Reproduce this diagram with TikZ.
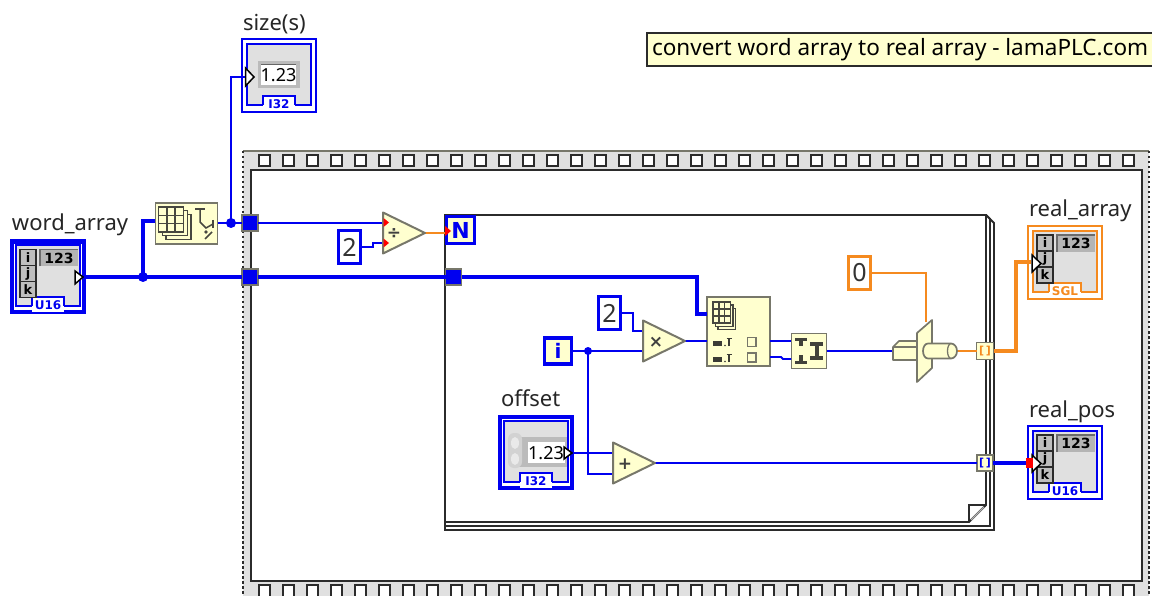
\documentclass[tikz,border=0pt]{standalone}
\usepackage{fontspec}
\setmainfont{Noto Sans}
\setsansfont{Noto Sans}
\newfontfamily\lvb{DejaVu Sans}
\usetikzlibrary{calc}
\definecolor{lvblue}{HTML}{0000F0}
\definecolor{lvorange}{HTML}{F58A1F}
\definecolor{lvyellow}{HTML}{FFFFCF}
\definecolor{lvgrey}{HTML}{E0E0E0}
\definecolor{lvedge}{HTML}{77776A}
\definecolor{lvdark}{HTML}{2B2B2B}
\definecolor{lvmid}{HTML}{B4B4B4}
\tikzset{
  wthin/.style={draw=lvblue,line width=1.8pt},
  wthick/.style={draw=lvblue,line width=3.4pt},
  othin/.style={draw=lvorange,line width=1.8pt},
  othick/.style={draw=lvorange,line width=3.6pt},
  lab/.style={anchor=base west,inner sep=0,outer sep=0,text=black!85,font=\fontsize{22}{24}\selectfont},
  fnbox/.style={rectangle,draw=lvedge,fill=lvyellow,line width=1.8pt,inner sep=0,outer sep=0},
  tunnel/.style={rectangle,draw=lvedge,fill=lvblue,line width=1.4pt,minimum size=16pt,inner sep=0,outer sep=0},
  itunnel/.style={rectangle,draw=lvedge,fill=lvyellow,line width=1.8pt,minimum size=16pt,inner sep=0,outer sep=0,font=\lvb\bfseries\fontsize{11}{11}\selectfont},
  const/.style={rectangle,draw=#1,fill=white,line width=3.6pt,inner sep=0,outer sep=0,text=black!80,font=\fontsize{25}{25}\selectfont},
  dot/.style={circle,fill=lvblue,inner sep=0,outer sep=0,minimum size=#1},
  tri/.style={rectangle,inner sep=0,outer sep=0,minimum width=42pt,minimum height=41pt},
  tripoly/.style={draw=lvedge,fill=lvyellow,line width=2pt,line join=round},
  sym/.style={inner sep=0,outer sep=0,text=black!75,font=\lvb\bfseries\fontsize{17}{17}\selectfont},
  icon/.style={draw=lvedge!60!black,line width=1.5pt},
  iconbar/.style={draw=lvedge!60!black,line width=2.2pt},
  joinbar/.style={draw=lvedge!55!black,line width=3.6pt},
  ijk/.style={draw=lvdark,fill=lvgrey!85!black,line width=1.6pt},
  ijktxt/.style={inner sep=0,outer sep=0,text=black,font=\lvb\bfseries\fontsize{13}{13}\selectfont},
  termarrow/.style={draw=black,fill=white,line width=1.5pt},
  layer/.style={draw=lvdark,line width=1.8pt,fill=white},
  loopbox/.style={rectangle,draw=lvblue,fill=lvyellow,line width=3.6pt,inner sep=0,outer sep=0,text=lvblue,font=\lvb\bfseries\fontsize{22}{22}\selectfont},
}
% terminal shell: name, left, top, colour, tag, outer line width, outer inset
\newcommand{\termframe}[7]{%
  \node[rectangle,inner sep=0,outer sep=0,minimum width=76pt,minimum height=75pt] (#1) at (#2+38,#3+37.5) {};
  \begin{scope}[shift={(#2,#3)}]
    \draw[draw=#4,fill=white,line width=#6] (#7,#7) rectangle (76-#7,75-#7);
    \draw[draw=#4,fill=lvgrey,line width=2pt] (6,6) rectangle (70,67);
    \fill[white] (22,58) rectangle (54,73);
    \draw[draw=#4,line width=2pt] (22,67) -- (22,58) -- (54,58) -- (54,67);
    \node[inner sep=0,outer sep=0,text=#4,font=\lvb\bfseries\fontsize{12}{12}\selectfont] at (38,66) {#5};
  \end{scope}}
% array content of a terminal
\newcommand{\arrayface}[2]{%
  \begin{scope}[shift={(#1,#2)}]
    \draw[ijk] (10,10) rectangle (26,26);
    \draw[ijk] (10,26) rectangle (26,42);
    \draw[ijk] (10,42) rectangle (26,58);
    \node[ijktxt] at (18,18) {i};
    \node[ijktxt] at (18,34) {j};
    \node[ijktxt] at (18,50) {k};
    \fill[lvmid] (30,10) rectangle (68,27);
    \draw[draw=lvdark!70,line width=1.2pt] (30,27) -- (30,10) -- (68,10);
    \node[ijktxt,font=\lvb\bfseries\fontsize{14}{14}\selectfont] at (49,18.5) {123};
  \end{scope}}
% 3d array icon: left, top, x scale, y scale
\newcommand{\gridicon}[4]{%
  \begin{scope}[shift={(#1,#2)},x=#3pt,y=-#4pt]
    \draw[icon,fill=lvyellow] (6,6) rectangle (26,26);
    \draw[icon,fill=lvyellow] (3,3) rectangle (23,23);
    \draw[icon,fill=lvyellow] (0,0) rectangle (20,20);
    \draw[icon] (6.7,0) -- (6.7,20) (13.3,0) -- (13.3,20) (0,6.7) -- (20,6.7) (0,13.3) -- (20,13.3);
  \end{scope}}
\begin{document}
\begin{tikzpicture}[x=1pt,y=-1pt]
\useasboundingbox (0,0) rectangle (1152,596);
\fill[white] (0,0) rectangle (1152,596);

% ---- flat sequence frame
\fill[lvgrey] (243,151) rectangle (1149,596);
\draw[draw=lvedge,line width=1.2pt] (243,151) -- (1149,151);
\draw[draw=lvdark,line width=2.4pt,dash pattern=on 2.5pt off 2.5pt] (243,151) -- (243,596);
\draw[draw=lvdark,line width=2.4pt,dash pattern=on 2.5pt off 2.5pt] (1149,151) -- (1149,596);
\draw[draw=lvdark,fill=white,line width=2.6pt] (251,170) rectangle (1142,581);
\foreach \i in {0,...,36}{
  \draw[draw=lvdark,fill=white,line width=2pt] (259+24*\i,155) rectangle (270+24*\i,166);
  \draw[draw=lvdark,fill=white,line width=2pt] (259+24*\i,585) rectangle (270+24*\i,597);
}

% ---- for loop
\draw[layer] (445,215) -- (986,215) -- (994,223) -- (994,530) -- (445,530) -- cycle;
\draw[layer] (445,215) -- (986,215) -- (990,219) -- (990,526) -- (445,526) -- cycle;
\draw[layer] (445,215) -- (986,215) -- (986,505) -- (969,522) -- (445,522) -- cycle;
\draw[draw=lvdark,line width=1.4pt] (986,505) -- (969,505) -- (969,522);
\draw[draw=lvmid,line width=1.2pt] (984,507) -- (971,520);

% ---- named blocks
\node[tunnel] (t1) at (250,223) {};
\node[tunnel] (t2) at (250,277) {};
\node[tunnel] (t3) at (453.5,277) {};
\node[itunnel,minimum size=17pt,text=lvorange] (t4) at (985,351) {[\,]};
\node[itunnel,minimum size=16pt,text=lvblue] (t5) at (985,463) {[\,]};
\node[loopbox,minimum width=28pt,minimum height=27pt] (nn) at (460.5,230) {N};
\node[loopbox,minimum width=27pt,minimum height=26pt,font=\lvb\bfseries\fontsize{20}{20}\selectfont] (ii) at (558,351) {i};

\node[const=lvblue,minimum width=22pt,minimum height=33pt] (c2a) at (349.5,247) {2};
\node[const=lvblue,minimum width=22pt,minimum height=33pt] (c2b) at (609.5,313) {2};
\node[const=lvorange,minimum width=22pt,minimum height=33pt] (c0) at (859.5,273) {0};

\node[tri] (div) at (404,233) {};
\node[tri] (mul) at (664,341) {};
\node[tri] (add) at (634,463) {};

\node[fnbox,minimum width=62pt,minimum height=41pt] (asize) at (186.5,223.5) {};
\node[fnbox,minimum width=63pt,minimum height=69pt] (asub) at (738.5,331.5) {};
\node[fnbox,minimum width=35pt,minimum height=35pt] (join) at (809,351) {};

\node[rectangle,inner sep=0,outer sep=0,minimum width=64pt,minimum height=42pt] (sel) at (925,351) {};

\node[dot=10pt] (d1) at (143,277) {};
\node[dot=10pt] (d2) at (231,223) {};
\node[dot=8pt] (d3) at (588,351) {};

% ---- ports
\coordinate (asize-in) at (155,221);
\coordinate (asub-in) at (707,314);
\coordinate (asub-idx) at (707,341);
\coordinate (asub-o1) at (770,341);
\coordinate (asub-o2) at (770,357);
\coordinate (join-i1) at (791,341);
\coordinate (join-i2) at (791,359);
\coordinate (sel-in) at (893,351);
\coordinate (sel-top) at (926,322);
\coordinate (sel-out) at (957,351);
\coordinate (size-in) at (245,77);
\coordinate (ra-in) at (1031,262);
\coordinate (rp-in) at (1030,463);
\coordinate (div-a) at (383,223);
\coordinate (div-b) at (383,243);
\coordinate (mul-a) at (643,331);
\coordinate (mul-b) at (643,351);
\coordinate (add-a) at (613,453);
\coordinate (add-b) at (613,474);
\coordinate (off-out) at (574,453);

% ---- terminals
\termframe{wa}{10}{239.5}{lvblue}{U16}{4.4pt}{2.2}
\arrayface{10}{239.5}
\termframe{sz}{241}{38.5}{lvblue}{I32}{2pt}{1}
\termframe{off}{498}{415}{lvblue}{I32}{4.4pt}{2.2}
\termframe{ra}{1027}{225}{lvorange}{SGL}{2pt}{1}
\arrayface{1027}{225}
\termframe{rp}{1027}{425}{lvblue}{U16}{2pt}{1}
\arrayface{1027}{425}

% numeric faces
\fill[lvmid!90] (258,61) rectangle (300,88);
\fill[white] (261,64) rectangle (296,85);
\draw[draw=black!60,line width=.8pt] (261,64) -- (296,64);
\node[inner sep=0,outer sep=0,text=black,font=\fontsize{18}{18}\selectfont] at (278.5,75) {1.23};
\fill[lvmid!90] (512,437) rectangle (567,467);
\fill[lvmid!60,rounded corners=6pt] (508,433) rectangle (522,468);
\fill[lvgrey!70] (515,443) ellipse (4pt and 6pt);
\fill[lvgrey!70] (515,459) ellipse (4pt and 6pt);
\fill[white] (528,442) rectangle (565,463);
\node[inner sep=0,outer sep=0,text=black,font=\fontsize{18}{18}\selectfont] at (546,453) {1.23};

% terminal arrows
\draw[termarrow] (75,271) -- (83,277) -- (75,284) -- cycle;
\draw[termarrow] (245.5,68) -- (254,77) -- (245.5,86) -- cycle;
\draw[termarrow] (564,447) -- (572,453) -- (564,459) -- cycle;
\draw[termarrow] (1032,255) -- (1041,263.5) -- (1032,272) -- cycle;
\draw[termarrow] (1032,455) -- (1041,463.5) -- (1032,472) -- cycle;

% ---- wires
\draw[wthick] (wa.east) -- (t2.west);
\draw[wthick] (t2.east) -- (t3.west);
\draw[wthick] (d1.center) |- (asize-in);
\draw[wthick,line join=miter] (t3.east) -- (697,277) |- (asub-in);
\draw[wthin] (asize.east |- d2) -- (d2.center) -- (t1.west);
\draw[wthin] (d2.center) |- (size-in);
\draw[wthin] (t1.east) -- (div-a);
\draw[wthin] (c2a.east) -- (373,247) -- (373,243) -- (div-b);
\draw[othin] (div.east) -- (nn.west |- div.east);
\draw[wthin] (c2b.east) -- (633,313) |- (mul-a);
\draw[wthin] (ii.east) -- (d3.center) -- (mul-b);
\draw[wthin] (d3.center) |- (add-b);
\draw[wthin] (off-out) -- (add-a);
\draw[wthin] (mul.east) -- (asub-idx);
\draw[wthin] (asub-o1) -- (join-i1);
\draw[wthin] (asub-o2) -- (781,357) -- (783,359) -- (join-i2);
\draw[wthin] (join.east) -- (sel-in);
\draw[othin] (c0.east) -| (sel-top);
\draw[othin] (sel-out) -- (t4.west);
\draw[othick] (t4.east) -- (1016,351) |- (ra-in);
\draw[wthin] (add.east) -- (t5.west);
\draw[wthick] (t5.east) -- (rp-in);

% red coercion marks
\fill[red] (445,226) -- (451,231) -- (445,236) -- cycle;
\fill[red] (1026,458) rectangle (1033,468);

% ---- triangles
\draw[tripoly] (div.north west) -- (div.east) -- (div.south west) -- cycle;
\draw[tripoly] (mul.north west) -- (mul.east) -- (mul.south west) -- cycle;
\draw[tripoly] (add.north west) -- (add.east) -- (add.south west) -- cycle;
\fill[red] (383.5,218) -- (389,222.5) -- (383.5,227) -- cycle;
\fill[red] (383.5,238.5) -- (389,243) -- (383.5,247.5) -- cycle;
\node[sym] at (394,234) {÷};
\node[sym] at (656,342) {×};
\node[sym] at (625,464) {+};

% ---- function icons
\gridicon{158.5}{207}{1.25}{1.25}
\draw[iconbar] (195,209) -- (205,209);
\draw[icon] (200,209) -- (200,222) -- (206,228) -- (213,224);
\draw[iconbar] (213,220) -- (213,228);
\draw[icon] (205,239) -- (212,232);
\fill[lvedge!60!black] (206,232) circle (1.8pt);

\gridicon{713}{302}{.87}{1.06}
\foreach \yy/\bb in {342/343.5,357.5/359.5}{
  \fill[lvedge!50!black] (713,\bb-2.5) rectangle (722,\bb+2.5);
  \fill[lvedge!50!black] (725,\bb+2) circle (.9pt);
  \draw[draw=lvedge!50!black,line width=1.3pt] (729,\bb+2.5) -- (729,\bb-5.5) (726.5,\bb-5) -- (731.5,\bb-5);
  \draw[draw=lvedge,fill=lvyellow,line width=1.6pt] (747.5,\yy-4.5) rectangle (756,\yy+4.5);
}
% join
\draw[joinbar] (801,339) -- (801,346) (795,339.5) -- (807,339.5);
\draw[joinbar] (801,355) -- (801,362) (795,362.5) -- (807,362.5);
\draw[joinbar] (817,343) -- (817,359) (810,344) -- (823,344) (810,358) -- (823,358);

% ---- select / cast shape
\draw[draw=lvedge,fill=lvyellow,line width=1.7pt,line join=round] (917,341) -- (899,341) -- (893,347) -- (893,360) -- (917,360) -- cycle;
\draw[draw=lvedge,line width=1.2pt] (893,347) -- (917,347);
\draw[draw=lvedge,fill=lvyellow,line width=1.7pt,line join=round] (917,333) -- (932,320) -- (932,368) -- (917,382) -- cycle;
\draw[draw=lvedge,fill=lvyellow,line width=1.7pt] (928,343.5) -- (951,343.5) arc[start angle=90,end angle=-90,x radius=6pt,y radius=7.5pt] -- (928,358.5) arc[start angle=270,end angle=90,x radius=5pt,y radius=7.5pt] -- cycle;
\draw[draw=lvedge,line width=1.3pt] (951,343.5) arc[start angle=90,end angle=270,x radius=3.5pt,y radius=7.5pt];

% ---- labels
\node[lab] (lwa) at (12,231) {word\_array};
\node[lab] (lsz) at (243,31) {size(s)};
\node[lab] (loff) at (501,406) {offset};
\node[lab] (lra) at (1029,217) {real\_array};
\node[lab] (lrp) at (1029,417) {real\_pos};
\node[rectangle,draw=lvdark,fill=lvyellow,line width=1.4pt,inner xsep=5pt,inner ysep=0pt,outer sep=0,minimum height=33pt,anchor=north west,text=black,font=\fontsize{22.5}{26}\selectfont] (cmt) at (647,33) {\makebox[500pt][l]{convert word array to real array - lamaPLC.com}};
\end{tikzpicture}
\end{document}
